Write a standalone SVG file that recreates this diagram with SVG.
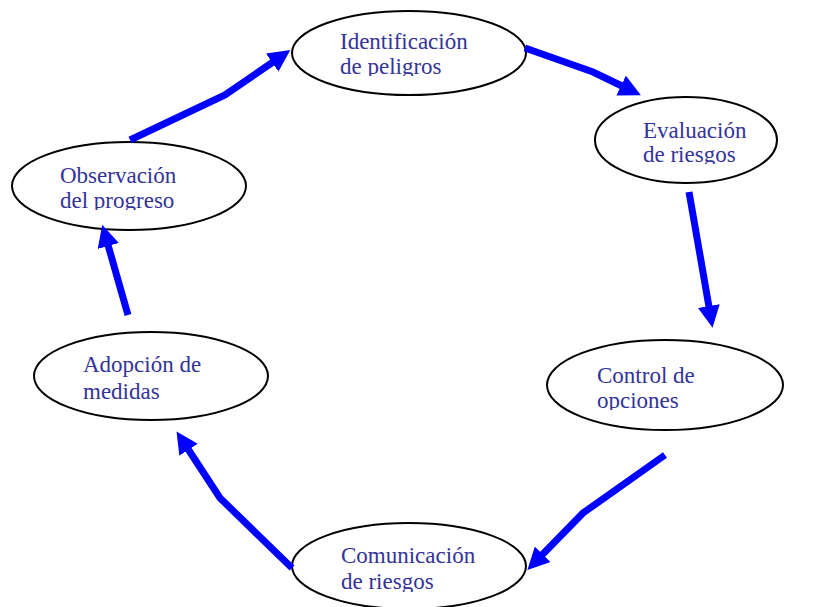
<svg xmlns="http://www.w3.org/2000/svg" width="818" height="607" viewBox="0 0 818 607">
<style>
.node ellipse{fill:#fff;stroke:#000;stroke-width:2}
.node text{font-family:"Liberation Serif","Times New Roman",serif;font-size:23px;fill:#333399}
.conn path{fill:none;stroke:#0000ff;stroke-width:7;stroke-linejoin:miter;marker-end:url(#ah)}
</style>
<defs>
<marker id="ah" markerUnits="userSpaceOnUse" viewBox="0 -11 22 22" markerWidth="22" markerHeight="22" refX="1" refY="0" orient="auto">
<path d="M0,-11 L22,0 L0,11 Z" fill="#0000ff"/>
</marker>
<clipPath id="c1"><rect x="300" y="20" width="220" height="56"/></clipPath>
<clipPath id="c2"><rect x="600" y="105" width="170" height="59"/></clipPath>
<clipPath id="c3"><rect x="555" y="350" width="220" height="60"/></clipPath>
<clipPath id="c4"><rect x="300" y="530" width="220" height="62"/></clipPath>
<clipPath id="c6"><rect x="20" y="150" width="220" height="60"/></clipPath>
</defs>
<g id="n1" class="node">
<ellipse cx="409" cy="53" rx="117" ry="42"/>
<g clip-path="url(#c1)"><text x="340" y="49">Identificación</text><text x="340" y="74">de peligros</text></g>
</g>
<g id="n2" class="node">
<ellipse cx="686" cy="140" rx="91" ry="43"/>
<g clip-path="url(#c2)"><text x="643" y="138">Evaluación</text><text x="643" y="162">de riesgos</text></g>
</g>
<g id="n3" class="node">
<ellipse cx="665" cy="385" rx="118" ry="45"/>
<g clip-path="url(#c3)"><text x="597" y="383">Control de</text><text x="597" y="408">opciones</text></g>
</g>
<g id="n4" class="node">
<ellipse cx="409" cy="566" rx="117" ry="43"/>
<g clip-path="url(#c4)"><text x="341" y="563">Comunicación</text><text x="341" y="589">de riesgos</text></g>
</g>
<g id="n5" class="node">
<ellipse cx="151" cy="376" rx="117" ry="44"/>
<text x="83" y="372">Adopción de</text><text x="83" y="399">medidas</text>
</g>
<g id="n6" class="node">
<ellipse cx="129" cy="186" rx="117" ry="44"/>
<g clip-path="url(#c6)"><text x="60" y="183">Observación</text><text x="60" y="208">del progreso</text></g>
</g>
<g id="connectors" class="conn">
<path d="M130,140 L225,95 L273,62"/>
<path d="M525,48 L593,72 L622,86"/>
<path d="M689,192 L700,255 L709,307"/>
<path d="M665,455 L583,513 L542,555"/>
<path d="M292,568 L220,498 L188,449"/>
<path d="M128,315 L108,245"/>
</g>
</svg>
